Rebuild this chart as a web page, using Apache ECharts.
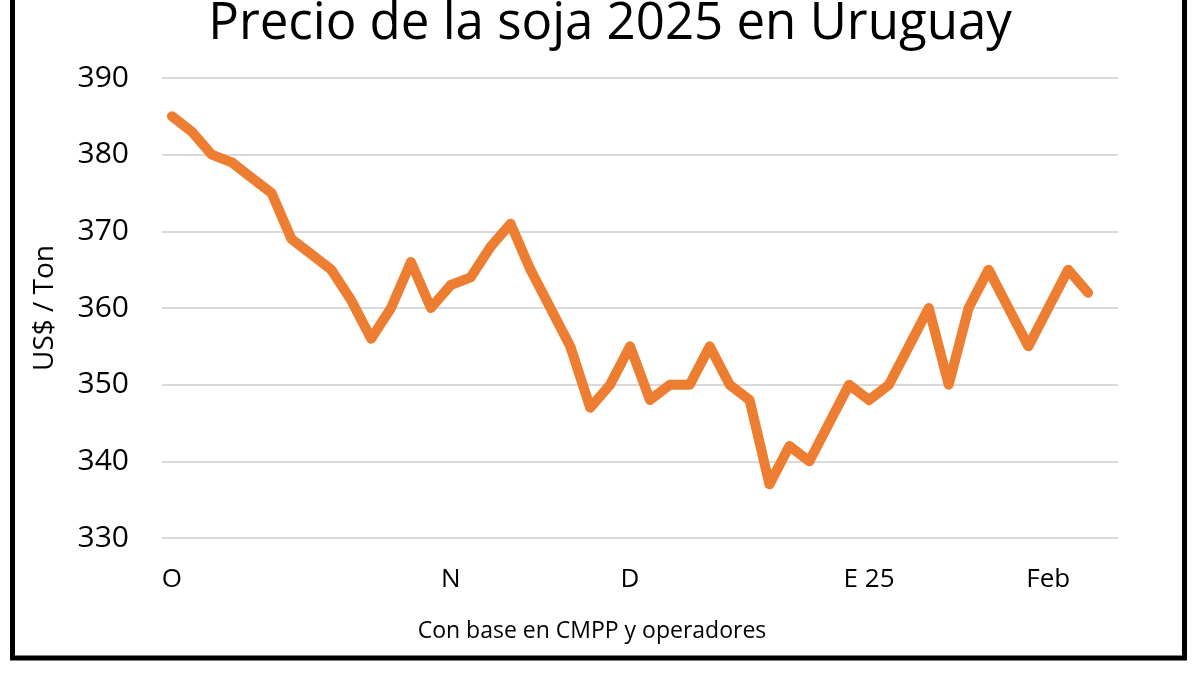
<!DOCTYPE html>
<html>
<head>
<meta charset="utf-8">
<script src="https://cdn.jsdelivr.net/npm/echarts@6/dist/echarts.min.js"></script>
<style>
html,body{margin:0;padding:0;background:#fff;}
#chart{width:1200px;height:675px;}
</style>
</head>
<body>
<div id="chart"></div>
<script>
// Weekly soybean price, US$/Ton
const prices = [385,383,380,379,377,375,369,367,365,361,356,360,366,360,363,364,368,371,365,360,355,347,350,355,348,350,350,355,350,348,337,342,340,345,350,348,350,355,360,350,360,365,360,355,360,365,362];
// Month tick labels and the category index they sit on
const tickIndex = [0, 14, 23, 35, 44];
const tickText = ['O', 'N', 'D', 'E 25', 'Feb'];
const categoryCount = 48;
const yTicks = [330, 340, 350, 360, 370, 380, 390];

const categories = [];
for (let i = 0; i < categoryCount; i++) {
  const k = tickIndex.indexOf(i);
  categories.push(k >= 0 ? tickText[k] : '');
}

const font = '"Open Sans", "Noto Sans", sans-serif';
const chart = echarts.init(document.getElementById('chart'));
chart.setOption({
  animation: false,
  backgroundColor: '#fff',
  grid: { left: 162, right: 82, top: 78, bottom: 137 },
  xAxis: {
    type: 'category',
    data: categories,
    boundaryGap: true,
    axisLine: { show: false },
    axisTick: { show: false },
    axisLabel: {
      interval: 0,
      color: '#000',
      fontFamily: font,
      fontSize: 26,
      margin: 29
    }
  },
  yAxis: {
    type: 'value',
    min: yTicks[0],
    max: yTicks[yTicks.length - 1],
    interval: 10,
    name: 'US$ / Ton',
    nameLocation: 'middle',
    nameGap: 103,
    nameTextStyle: { color: '#000', fontFamily: font, fontSize: 28 },
    axisLine: { show: false },
    axisTick: { show: false },
    axisLabel: { color: '#000', fontFamily: font, fontSize: 30, margin: 33 },
    splitLine: { lineStyle: { color: '#D9D9D9', width: 2 } }
  },
  series: [{
    type: 'line',
    data: prices,
    symbol: 'none',
    lineStyle: { color: '#ED7D31', width: 10, join: 'round', cap: 'round' },
    itemStyle: { color: '#ED7D31' }
  }],
  graphic: [
    {
      type: 'rect',
      shape: { x: 12.5, y: -20, width: 1172, height: 678 },
      style: { fill: 'none', stroke: '#000', lineWidth: 5 },
      z: 100
    },
    {
      type: 'text',
      style: {
        x: 610, y: 24,
        text: 'Precio de la soja 2025 en Uruguay',
        textAlign: 'center', textVerticalAlign: 'middle',
        fontFamily: font, fontSize: 51, fill: '#000'
      }
    },
    {
      type: 'text',
      style: {
        x: 592, y: 631,
        text: 'Con base en CMPP y operadores',
        textAlign: 'center', textVerticalAlign: 'middle',
        fontFamily: font, fontSize: 23, fill: '#000'
      }
    }
  ]
});
</script>
</body>
</html>
